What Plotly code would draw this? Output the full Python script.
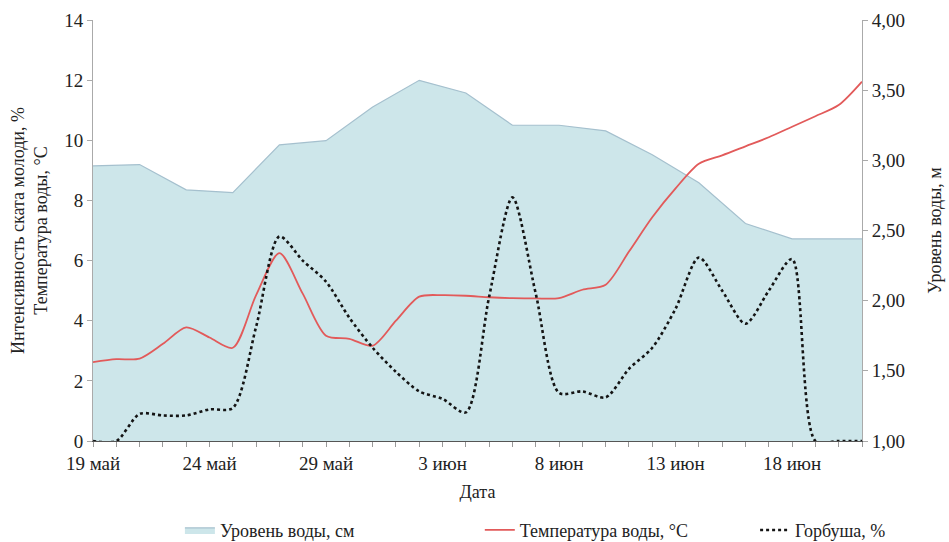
import plotly.graph_objects as go

# ---- data ----
dates = ["2014-05-19", "2014-05-20", "2014-05-21", "2014-05-22", "2014-05-23", "2014-05-24",
         "2014-05-25", "2014-05-26", "2014-05-27", "2014-05-28", "2014-05-29", "2014-05-30",
         "2014-05-31", "2014-06-01", "2014-06-02", "2014-06-03", "2014-06-04", "2014-06-05",
         "2014-06-06", "2014-06-07", "2014-06-08", "2014-06-09", "2014-06-10", "2014-06-11",
         "2014-06-12", "2014-06-13", "2014-06-14", "2014-06-15", "2014-06-16", "2014-06-17",
         "2014-06-18", "2014-06-19", "2014-06-20", "2014-06-21"]

temperature = [2.62, 2.72, 2.74, 3.23, 3.78, 3.44, 3.10, 4.85, 6.25, 4.90, 3.50, 3.40,
               3.17, 4.00, 4.80, 4.85, 4.83, 4.78, 4.75, 4.74, 4.75, 5.03, 5.20, 6.30,
               7.44, 8.40, 9.22, 9.50, 9.80, 10.10, 10.45, 10.80, 11.17, 11.95]

gorbusha = [0.0, 0.0, 0.90, 0.85, 0.85, 1.05, 1.10, 3.80, 6.80, 6.00, 5.30, 4.10,
            3.10, 2.30, 1.65, 1.40, 0.95, 4.80, 8.10, 4.90, 1.60, 1.65, 1.45, 2.40,
            3.10, 4.40, 6.10, 5.00, 3.90, 5.00, 6.05, 0.0, 0.0, 0.0]

level_dates = ["2014-05-19", "2014-05-21", "2014-05-23", "2014-05-25", "2014-05-27",
               "2014-05-29", "2014-05-31", "2014-06-02", "2014-06-04", "2014-06-06",
               "2014-06-08", "2014-06-10", "2014-06-12", "2014-06-14", "2014-06-16",
               "2014-06-18", "2014-06-21"]
level = [2.96, 2.97, 2.79, 2.77, 3.11, 3.14, 3.38, 3.57, 3.48, 3.25,
         3.25, 3.21, 3.04, 2.84, 2.55, 2.44, 2.44]

tick_dates = ["2014-05-19", "2014-05-24", "2014-05-29", "2014-06-03",
              "2014-06-08", "2014-06-13", "2014-06-18"]
tick_labels = ["19 май", "24 май", "29 май", "3 июн", "8 июн", "13 июн", "18 июн"]

FONT = "Liberation Serif, DejaVu Serif, Times New Roman, serif"
fs_tick = 19
fs_title = 18
fs_leg = 18
TXT = "#222"

fig = go.Figure()
fig.add_trace(go.Scatter(
    x=level_dates, y=level, name="Уровень воды, см", mode="lines",
    fill="tozeroy", fillcolor="rgb(205,230,234)",
    line=dict(color="rgb(165,192,206)", width=1.2),
    yaxis="y", legend="legend"))
fig.add_trace(go.Scatter(
    x=dates, y=temperature, name="Температура воды, °С", mode="lines",
    line=dict(color="rgb(226,90,90)", width=1.8, shape="spline", smoothing=0.8),
    yaxis="y2", legend="legend2"))
fig.add_trace(go.Scatter(
    x=dates, y=gorbusha, name="Горбуша, %", mode="lines",
    line=dict(color="rgb(20,20,20)", width=2.6, dash="dot", shape="spline", smoothing=0.8),
    yaxis="y2", legend="legend3"))

legend_common = dict(orientation="h", yanchor="middle", y=-0.212, xanchor="left",
                     font=dict(family=FONT, size=fs_leg, color=TXT),
                     bgcolor="rgba(0,0,0,0)")

fig.update_layout(
    width=949, height=542,
    margin=dict(l=93, r=87, t=20, b=101, autoexpand=False),
    paper_bgcolor="white", plot_bgcolor="white",
    separators=", ",
    font=dict(family=FONT, size=fs_tick, color=TXT),
    xaxis=dict(
        type="date", range=["2014-05-19", "2014-06-21"],
        tickvals=tick_dates, ticktext=tick_labels,
        showgrid=False, zeroline=False,
        showline=True, linecolor="#555", linewidth=1.2,
        ticks="outside", ticklen=5, tickcolor="#999",
        ticklabelstandoff=0,
        minor=dict(dtick=86400000, ticks="outside", ticklen=5, tickcolor="#999", showgrid=False),
        tickfont=dict(family=FONT, size=fs_tick, color=TXT),
        title=dict(text="Дата", font=dict(family=FONT, size=fs_title, color=TXT), standoff=12),
    ),
    yaxis=dict(
        side="right", range=[1, 4], dtick=0.5, tickformat=".2f",
        showgrid=False, zeroline=False,
        showline=True, linecolor="#aaa", linewidth=1,
        ticks="outside", ticklen=5, tickcolor="#aaa",
        tickfont=dict(family=FONT, size=fs_tick, color=TXT),
        title=dict(text="Уровень воды, м", font=dict(family=FONT, size=fs_title, color=TXT), standoff=24),
    ),
    yaxis2=dict(
        side="left", overlaying="y", range=[0, 14], dtick=2,
        showgrid=False, zeroline=False,
        showline=True, linecolor="#aaa", linewidth=1,
        ticks="outside", ticklen=5, tickcolor="#aaa",
        tickfont=dict(family=FONT, size=fs_tick, color=TXT),
        title=dict(text="Интенсивность ската молоди, %<br>Температура воды, °С",
                   font=dict(family=FONT, size=fs_title, color=TXT), standoff=11),
    ),
    legend=dict(x=0.113, **legend_common),
    legend2=dict(x=0.503, **legend_common),
    legend3=dict(x=0.861, **legend_common),
    showlegend=True,
)

fig.write_html("out.html", config={"displayModeBar": False},
               post_script="document.body.style.margin='0px';")
